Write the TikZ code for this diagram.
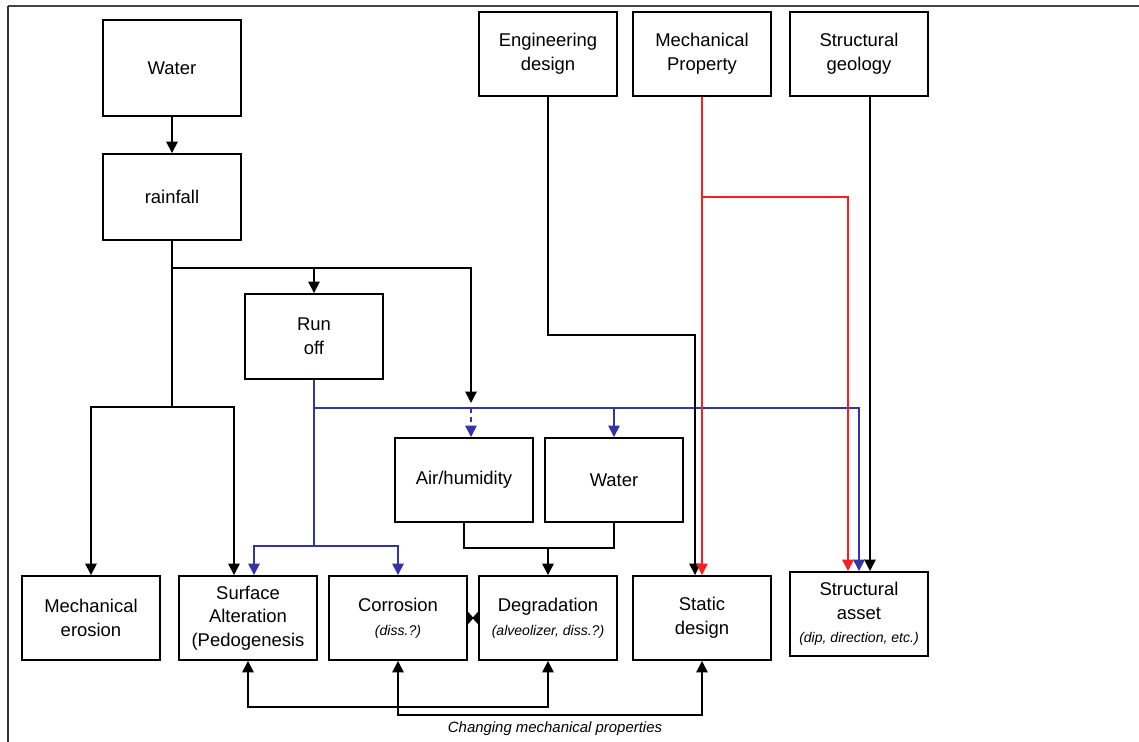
\documentclass[tikz,border=0pt]{standalone}
\usepackage{fontspec}
\setmainfont{Liberation Sans}
\usetikzlibrary{arrows.meta,calc}
\definecolor{runblue}{RGB}{52,52,165}
\definecolor{mechred}{RGB}{250,30,30}
\newcommand{\subit}[1]{{\fontsize{8}{10}\selectfont\itshape #1}}
\tikzset{
  box/.style={draw,line width=1.1pt,minimum width=2.76cm,minimum height=1.68cm,
    align=center,inner sep=1pt,font=\fontsize{10.5}{13.5}\selectfont},
  tip/.style={-{Triangle[length=6.5pt,width=6.5pt]}},
  link/.style={line width=0.9pt},
  arrlink/.style={link,tip},
  bluelink/.style={link,runblue},
  bluearr/.style={link,runblue,tip},
  redarr/.style={link,mechred,tip},
  botharr/.style={link,{Triangle[length=6.5pt,width=6.5pt]}-{Triangle[length=6.5pt,width=6.5pt]}},
}
\begin{document}
\begin{tikzpicture}[x=0.02cm,y=-0.02cm]
\useasboundingbox (0,0) rectangle (1139,742);
\draw[line width=1.4pt,gray!55!black] (8,6) -- (1139,6);
\draw[line width=0.8pt,gray!40!black] (8,6) -- (8,742);

\node[box,minimum height=1.92cm] (water) at (172,68) {Water};
\node[box,minimum height=1.72cm] (rain) at (172,197) {rainfall};
\node[box] (eng) at (548,54) {Engineering\\design};
\node[box] (mech) at (702,54) {Mechanical\\Property};
\node[box] (sgeo) at (859,54) {Structural\\geology};
\node[box,minimum height=1.7cm] (runoff) at (314,336.5) {Run\\off};
\node[box] (air) at (464,480) {Air/humidity};
\node[box] (water2) at (614,480) {Water};
\node[box] (meros) at (91,618) {Mechanical\\erosion};
\node[box] (surf) at (248,618) {Surface\\Alteration\\(Pedogenesis};
\node[box] (corr) at (398,618) {Corrosion\\\subit{(diss.?)}};
\node[box] (degr) at (548,618) {Degradation\\\subit{(alveolizer, diss.?)}};
\node[box] (stat) at (702,618) {Static\\design};
\node[box] (sasset) at (859,614) {Structural\\asset\\\subit{(dip, direction, etc.)}};

\coordinate (rj) at (172,268);
\coordinate (rk) at (172,407);
\coordinate (airdrop) at (471,403);
\coordinate (rb) at (314,408);
\coordinate (rc) at (314,546);
\coordinate (awj) at (548,548);
\coordinate (ej) at (695,335);
\coordinate (mj) at (702,197);

\draw[arrlink] (water) -- (rain);
\draw[link] (rain.south) -- (rk);
\draw[arrlink] (rj) -| (runoff);
\draw[arrlink] (rj) -| (airdrop);
\draw[arrlink] (rk) -| (meros);
\draw[arrlink] (rk) -| ($(surf.north)+(-14,0)$);

\draw[bluelink] (runoff) -- (rc);
\draw[bluearr] (rc) -| ($(surf.north)+(6,0)$);
\draw[bluearr] (rc) -| (corr.north);
\draw[bluearr] (rb) -| (sasset.north);
\draw[bluearr] (rb -| water2.north) -- (water2.north);
\draw[bluearr,dash pattern=on 3pt off 2pt] (rb -| airdrop) -- ($(air.north)+(7,0)$);

\draw[link] (air) |- (awj) -| (water2);
\draw[arrlink] (awj) -- (degr);

\draw[arrlink] (eng) |- (ej) -- ($(stat.north)+(-7,0)$);
\draw[redarr] (mech) -- (stat);
\draw[redarr] (mj) -| ($(sasset.north)+(-11,0)$);
\draw[arrlink] ($(sgeo.south)+(11,0)$) -- ($(sasset.north)+(11,0)$);

\draw[link,{Triangle[reversed,length=3.2pt,width=7pt]}-{Triangle[reversed,length=3.2pt,width=7pt]}] (corr) -- (degr);

\draw[botharr] (surf.south) -- ++(0,46) -| (degr.south);
\draw[botharr] (corr.south) -- ++(0,54) -| (stat.south);
\node[font=\fontsize{8.5}{10}\selectfont\itshape] (chg) at (555,729) {Changing mechanical properties};
\end{tikzpicture}
\end{document}
